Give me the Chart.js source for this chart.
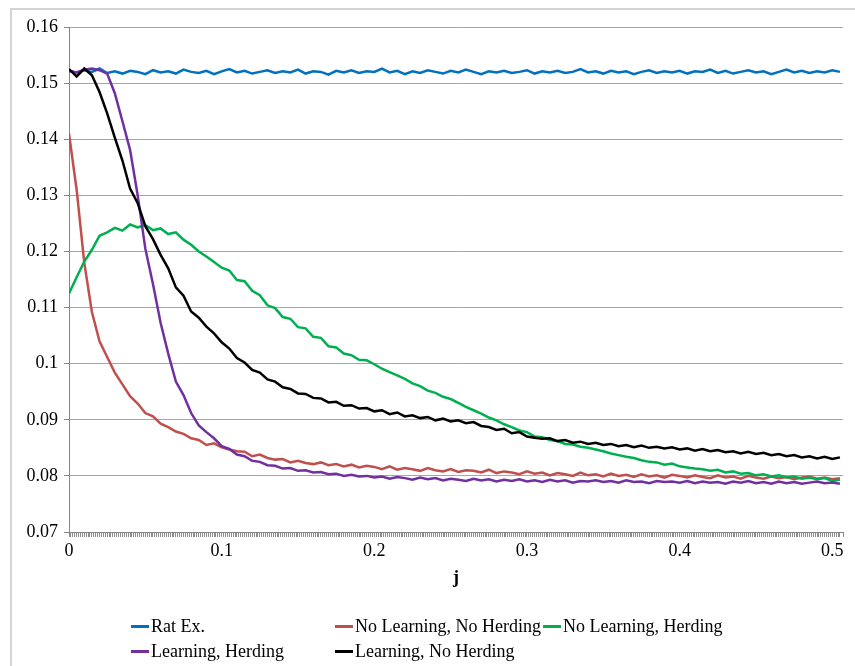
<!DOCTYPE html>
<html>
<head>
<meta charset="utf-8">
<script src="https://cdn.jsdelivr.net/npm/chart.js@4.4.0/dist/chart.umd.min.js"></script>
<style>
    body { margin: 0; background: #fff; }
    #wrap { position: relative; width: 855px; height: 666px; overflow: hidden; }
    #frame {
        position: absolute; left: 10px; top: 8px; width: 900px; height: 700px;
        border-left: 2px solid #d4d4d4; border-top: 2px solid #d4d4d4;
    }
    #c { position: absolute; left: 0; top: 0; }
    #legend {
        position: absolute; left: 131px; top: 615px;
        display: grid; grid-template-columns: 204px 208px 208px; row-gap: 3px;
        font-family: 'Liberation Serif', 'Times New Roman', serif; font-size: 18px; color: #000;
    }
    .item { display: flex; align-items: center; height: 22px; white-space: nowrap; }
    .swatch { width: 18px; height: 3px; margin-right: 2px; }
</style>
</head>
<body>
<div id="wrap">
    <div id="frame"></div>
    <canvas id="c" width="855" height="666"></canvas>
    <div id="legend"></div>
</div>
<script>
// Data
const jValues = [0, 0.005, 0.01, 0.015, 0.02, 0.025, 0.03, 0.035, 0.04, 0.045,
    0.05, 0.055, 0.06, 0.065, 0.07, 0.075, 0.08, 0.085, 0.09, 0.095,
    0.1, 0.105, 0.11, 0.115, 0.12, 0.125, 0.13, 0.135, 0.14, 0.145,
    0.15, 0.155, 0.16, 0.165, 0.17, 0.175, 0.18, 0.185, 0.19, 0.195,
    0.2, 0.205, 0.21, 0.215, 0.22, 0.225, 0.23, 0.235, 0.24, 0.245,
    0.25, 0.255, 0.26, 0.265, 0.27, 0.275, 0.28, 0.285, 0.29, 0.295,
    0.3, 0.305, 0.31, 0.315, 0.32, 0.325, 0.33, 0.335, 0.34, 0.345,
    0.35, 0.355, 0.36, 0.365, 0.37, 0.375, 0.38, 0.385, 0.39, 0.395,
    0.4, 0.405, 0.41, 0.415, 0.42, 0.425, 0.43, 0.435, 0.44, 0.445,
    0.45, 0.455, 0.46, 0.465, 0.47, 0.475, 0.48, 0.485, 0.49, 0.495,
    0.5, 0.505];

const ratEx = [0.1521, 0.1519, 0.1523, 0.1520, 0.1526, 0.1518, 0.1521, 0.1517, 0.1522, 0.1520,
    0.1516, 0.1523, 0.1519, 0.1521, 0.1517, 0.1524, 0.1520, 0.1518, 0.1522, 0.1516,
    0.1521, 0.1525, 0.1519, 0.1522, 0.1517, 0.1520, 0.1523, 0.1518, 0.1521, 0.1519,
    0.1524, 0.1517, 0.1521, 0.1520, 0.1515, 0.1522, 0.1519, 0.1523, 0.1518, 0.1521,
    0.1520, 0.1526, 0.1519, 0.1522, 0.1516, 0.1521, 0.1518, 0.1523, 0.1520, 0.1517,
    0.1522, 0.1519, 0.1524, 0.1520, 0.1516, 0.1521, 0.1519, 0.1522, 0.1518, 0.1520,
    0.1523, 0.1517, 0.1521, 0.1519, 0.1522, 0.1518, 0.1520, 0.1525, 0.1519, 0.1521,
    0.1517, 0.1522, 0.1519, 0.1521, 0.1516, 0.1520, 0.1523, 0.1518, 0.1521, 0.1519,
    0.1522, 0.1517, 0.1521, 0.1520, 0.1524, 0.1518, 0.1522, 0.1517, 0.1520, 0.1523,
    0.1519, 0.1521, 0.1516, 0.1520, 0.1524, 0.1519, 0.1522, 0.1518, 0.1521, 0.1519,
    0.1523, 0.1520];

const noLearnNoHerd = [0.1410, 0.1310, 0.1180, 0.1092, 0.1040, 0.1012, 0.0984, 0.0963, 0.0942, 0.0929,
    0.0912, 0.0906, 0.0893, 0.0887, 0.0879, 0.0875, 0.0867, 0.0864, 0.0855, 0.0858,
    0.0851, 0.0847, 0.0844, 0.0843, 0.0835, 0.0838, 0.0832, 0.0829, 0.0830, 0.0824,
    0.0827, 0.0823, 0.0821, 0.0824, 0.0819, 0.0821, 0.0817, 0.0820, 0.0815, 0.0818,
    0.0816, 0.0812, 0.0817, 0.0811, 0.0814, 0.0812, 0.0809, 0.0814, 0.0810, 0.0808,
    0.0812, 0.0807, 0.0810, 0.0809, 0.0806, 0.0811, 0.0805, 0.0808, 0.0806, 0.0803,
    0.0808, 0.0804, 0.0806, 0.0801, 0.0805, 0.0803, 0.0800, 0.0806, 0.0801, 0.0803,
    0.0799, 0.0804, 0.0800, 0.0802, 0.0798, 0.0803, 0.0799, 0.0801, 0.0797, 0.0802,
    0.0800, 0.0797, 0.0801, 0.0798, 0.0796, 0.0801, 0.0797, 0.0799, 0.0795, 0.0800,
    0.0797, 0.0795, 0.0799, 0.0796, 0.0798, 0.0794, 0.0797, 0.0799, 0.0795, 0.0797,
    0.0794, 0.0796];

const noLearnHerd = [0.1125, 0.1154, 0.1182, 0.1203, 0.1228, 0.1234, 0.1242, 0.1237, 0.1248, 0.1243,
    0.1247, 0.1238, 0.1241, 0.1231, 0.1234, 0.1221, 0.1212, 0.1200, 0.1191, 0.1181,
    0.1171, 0.1166, 0.1149, 0.1147, 0.1130, 0.1122, 0.1104, 0.1099, 0.1083, 0.1080,
    0.1065, 0.1063, 0.1048, 0.1046, 0.1031, 0.1029, 0.1018, 0.1015, 0.1007, 0.1006,
    0.0999, 0.0991, 0.0985, 0.0979, 0.0973, 0.0965, 0.0960, 0.0952, 0.0948, 0.0941,
    0.0937, 0.0930, 0.0923, 0.0917, 0.0911, 0.0904, 0.0899, 0.0892, 0.0887, 0.0881,
    0.0878, 0.0870, 0.0869, 0.0864, 0.0862, 0.0857, 0.0856, 0.0852, 0.0850, 0.0847,
    0.0844, 0.0840, 0.0837, 0.0834, 0.0832, 0.0828, 0.0825, 0.0824, 0.0820, 0.0822,
    0.0817, 0.0815, 0.0813, 0.0812, 0.0809, 0.0811, 0.0806, 0.0808, 0.0804, 0.0805,
    0.0801, 0.0803, 0.0799, 0.0801, 0.0797, 0.0799, 0.0795, 0.0797, 0.0794, 0.0796,
    0.0791, 0.0793];

const learnHerd = [0.1522, 0.1519, 0.1524, 0.1526, 0.1523, 0.1517, 0.1482, 0.1432, 0.1381, 0.1300,
    0.1205, 0.1142, 0.1073, 0.1018, 0.0968, 0.0944, 0.0912, 0.0890, 0.0878, 0.0867,
    0.0853, 0.0848, 0.0838, 0.0835, 0.0827, 0.0825, 0.0819, 0.0818, 0.0813, 0.0814,
    0.0809, 0.0810, 0.0806, 0.0807, 0.0803, 0.0804, 0.0800, 0.0802, 0.0799, 0.0800,
    0.0797, 0.0799, 0.0795, 0.0798, 0.0796, 0.0793, 0.0797, 0.0794, 0.0796, 0.0792,
    0.0795, 0.0793, 0.0791, 0.0795, 0.0792, 0.0794, 0.0790, 0.0793, 0.0791, 0.0794,
    0.0790, 0.0792, 0.0789, 0.0793, 0.0790, 0.0792, 0.0788, 0.0791, 0.0790, 0.0792,
    0.0789, 0.0791, 0.0788, 0.0792, 0.0789, 0.0790, 0.0787, 0.0791, 0.0789, 0.0790,
    0.0788, 0.0791, 0.0787, 0.0790, 0.0788, 0.0789, 0.0786, 0.0790, 0.0788, 0.0791,
    0.0787, 0.0789, 0.0786, 0.0790, 0.0787, 0.0789, 0.0786, 0.0788, 0.0790, 0.0787,
    0.0788, 0.0786];

const learnNoHerd = [0.1525, 0.1512, 0.1526, 0.1514, 0.1484, 0.1446, 0.1403, 0.1362, 0.1312, 0.1286,
    0.1245, 0.1222, 0.1194, 0.1170, 0.1136, 0.1121, 0.1093, 0.1082, 0.1066, 0.1054,
    0.1038, 0.1027, 0.1010, 0.1002, 0.0989, 0.0984, 0.0972, 0.0968, 0.0958, 0.0955,
    0.0947, 0.0946, 0.0939, 0.0938, 0.0931, 0.0932, 0.0925, 0.0926, 0.0920, 0.0921,
    0.0915, 0.0917, 0.0910, 0.0913, 0.0906, 0.0908, 0.0903, 0.0905, 0.0899, 0.0902,
    0.0897, 0.0899, 0.0894, 0.0896, 0.0889, 0.0887, 0.0882, 0.0884, 0.0876, 0.0878,
    0.0870, 0.0868, 0.0866, 0.0867, 0.0862, 0.0864, 0.0859, 0.0861, 0.0857, 0.0859,
    0.0855, 0.0857, 0.0853, 0.0855, 0.0851, 0.0854, 0.0850, 0.0852, 0.0849, 0.0851,
    0.0847, 0.0849, 0.0845, 0.0848, 0.0844, 0.0846, 0.0842, 0.0844, 0.0840, 0.0843,
    0.0839, 0.0841, 0.0837, 0.0839, 0.0835, 0.0837, 0.0833, 0.0835, 0.0831, 0.0834,
    0.0830, 0.0833];

const xTickLabels = ['0', '0.1', '0.2', '0.3', '0.4', '0.5'];
const yTickLabels = ['0.07', '0.08', '0.09', '0.1', '0.11', '0.12', '0.13', '0.14', '0.15', '0.16'];

const FONT = "'Liberation Serif', 'Times New Roman', serif";

const SERIES = [
    { label: 'Rat Ex.', values: ratEx, color: '#0070c0', order: 4 },
    { label: 'No Learning, No Herding', values: noLearnNoHerd, color: '#c0504d', order: 3 },
    { label: 'No Learning, Herding', values: noLearnHerd, color: '#00b050', order: 2 },
    { label: 'Learning, Herding', values: learnHerd, color: '#7030a0', order: 1 },
    { label: 'Learning, No Herding', values: learnNoHerd, color: '#000000', order: 0 }
];

function buildLegend(chart) {
    const box = document.getElementById('legend');
    box.innerHTML = chart.data.datasets.map(ds => `
        <div class="item"><span class="swatch" style="background:${ds.borderColor}"></span>${ds.label}</div>
    `).join('');
}

const ctx = document.getElementById('c');
const chart = new Chart(ctx, {
    type: 'line',
    data: {
        datasets: SERIES.map(s => ({
            label: s.label,
            data: jValues.map((j, i) => ({ x: j, y: s.values[i] })),
            borderColor: s.color,
            backgroundColor: s.color,
            borderWidth: 2.5,
            pointRadius: 0,
            tension: 0,
            order: s.order
        }))
    },
    options: {
        responsive: false,
        animation: false,
        events: [],
        layout: { padding: { left: 11, top: 27, right: 12, bottom: 77 } },
        plugins: { legend: { display: false }, tooltip: { enabled: false } },
        scales: {
            x: {
                type: 'linear',
                min: 0,
                max: 0.507,
                // dense category-style tick marks under the axis
                grid: {
                    drawOnChartArea: false, drawTicks: true, tickLength: 5,
                    color: '#8c8c8c', tickColor: '#8c8c8c', tickWidth: 1
                },
                border: { color: '#868686', width: 1 },
                ticks: {
                    stepSize: 0.00125,
                    autoSkip: false,
                    maxRotation: 0,
                    minRotation: 0,
                    padding: 3,
                    color: '#000',
                    font: { family: FONT, size: 18 },
                    callback: v => {
                        const k = Math.round(v * 10);
                        return Math.abs(v * 10 - k) < 1e-6 && xTickLabels[k] ? xTickLabels[k] : '';
                    }
                },
                title: { display: true, text: 'j', color: '#000', padding: 0, font: { family: FONT, size: 18, weight: 'bold' } },
                afterFit: s => { s.height = 57; }
            },
            y: {
                min: 0.07,
                max: 0.16,
                grid: { color: '#a6a6a6', tickLength: 5, tickColor: '#868686' },
                border: { color: '#868686', width: 1 },
                ticks: {
                    stepSize: 0.01,
                    padding: 6,
                    color: '#000',
                    font: { family: FONT, size: 18 },
                    callback: v => yTickLabels[Math.round((v - 0.07) * 100)]
                },
                afterFit: s => { s.width = 58; }
            }
        }
    }
});

buildLegend(chart);
</script>
</body>
</html>
